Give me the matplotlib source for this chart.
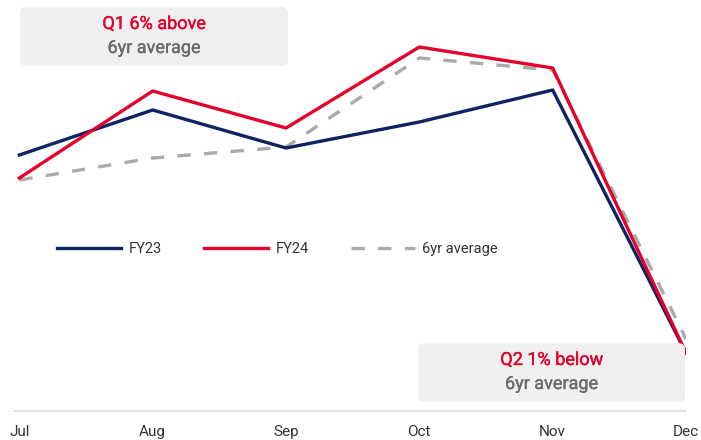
import matplotlib.pyplot as plt
import matplotlib.patheffects as pe
from matplotlib.patches import FancyBboxPatch

plt.rcParams["font.family"] = ["Roboto", "DejaVu Sans"]

months = ["Jul", "Aug", "Sep", "Oct", "Nov", "Dec"]
fy23 = [256, 301, 263, 289, 321, 58]
fy24 = [233, 320, 283, 364, 343, 58]
avg6 = [231, 253, 264, 353, 341, 72]

navy = "#0c2461"
red = "#e4002b"
grey = "#aaaaaa"

fig = plt.figure(figsize=(7.01, 4.40), dpi=100)
ax = fig.add_axes([14 / 701, 29 / 440, 672 / 701, 411 / 440])
ax.patch.set_alpha(0)

x = range(len(months))
ax.plot(x, fy23, color=navy, lw=2.4, label="FY23", zorder=3)
ax.plot(x, fy24, color=red, lw=2.4, label="FY24", zorder=4)
ax.plot(x, avg6, color=grey, lw=2.4, ls=(0, (4, 4)), label="6yr average", zorder=2)

ax.set_xlim(-0.04, 5)
ax.set_ylim(0, 411)
ax.set_xticks(list(x))
ax.set_xticklabels(months, fontsize=11, color="#333333")
ax.tick_params(axis="x", length=0, pad=10)
ax.set_yticks([])
for s in ["top", "left", "right"]:
    ax.spines[s].set_visible(False)
ax.spines["bottom"].set_color("#dddddd")
ax.spines["bottom"].set_linewidth(1.2)

ax.legend(loc="center left", bbox_to_anchor=(43 / 672, 1 - 249 / 411), ncol=3,
          frameon=False, fontsize=10.5, handlelength=4.4, columnspacing=2.9,
          handletextpad=0.5, borderpad=0, borderaxespad=0, labelcolor="#333333")

# annotation boxes
for (bx, by, bw, bh), top, bottom in [((20, 7, 268, 59), "Q1 6% above", "6yr average"),
                                      ((418, 343, 267, 59), "Q2 1% below", "6yr average")]:
    box = FancyBboxPatch((bx / 701, 1 - (by + bh) / 440), bw / 701, bh / 440,
                         boxstyle="round,pad=0,rounding_size=0.012",
                         transform=fig.transFigure, facecolor="#f0f0f0",
                         edgecolor="none", zorder=0)
    fig.patches.append(box)
    cx = (bx + bw / 2) / 701
    fig.text(cx, 1 - (by + 17) / 440, top, ha="center", va="center",
             fontsize=13, color=red,
             path_effects=[pe.withStroke(linewidth=0.25, foreground=red)])
    fig.text(cx, 1 - (by + 41) / 440, bottom, ha="center", va="center",
             fontsize=13, color="#6b6b6b",
             path_effects=[pe.withStroke(linewidth=0.25, foreground="#6b6b6b")])

plt.savefig("out.png", dpi=100)
